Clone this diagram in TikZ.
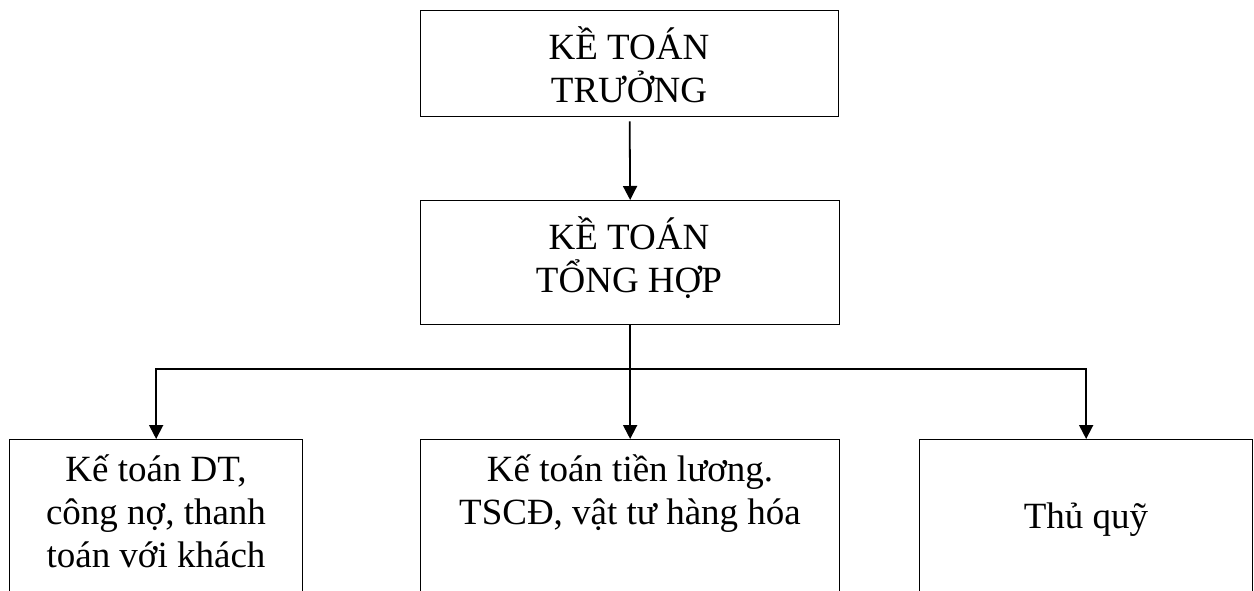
\documentclass[tikz,border=0pt]{standalone}
\usepackage{fontspec}
\setmainfont{Liberation Serif}
\usetikzlibrary{arrows.meta}
\begin{document}
\begin{tikzpicture}[x=1pt, y=-1pt,
	khung/.style={draw, line width=1.3pt, inner sep=0pt, anchor=north west},
	chu/.style={anchor=north, align=center, inner sep=0pt, font=\fontsize{37}{43}\selectfont},
	mui/.style={line width=1.8pt, -{Triangle[length=14pt,width=14pt]}}]

\useasboundingbox (0,0) rectangle (1254,591)							;

%%%%------------Ke toan truong----------------%%
\node [khung, minimum width=418pt, minimum height=106pt] (truong) at (420,10) {}	;
\node [chu] (truongchu) at (629,26) {KỀ TOÁN\\TRƯỞNG}					;

%%%%------------Ke toan tong hop----------------%%
\node [khung, minimum width=419pt, minimum height=124pt] (tonghop) at (420,200) {}	;
\node [chu] (tonghopchu) at (629,216) {KỀ TOÁN\\TỔNG HỢP}				;

%%%%------------Cac bo phan----------------%%
\node [khung, minimum width=293pt, minimum height=200pt] (congno) at (9,439) {}		;
\node [chu] (congnochu) at (156,455) {Kế toán DT,\\công nợ, thanh\\toán với khách}	;
\node [khung, minimum width=419pt, minimum height=200pt] (luong) at (420,439) {}	;
\node [chu] (luongchu) at (630,455) {Kế toán tiền lương.\\TSCĐ, vật tư hàng hóa}	;
\node [khung, minimum width=333pt, minimum height=200pt] (quy) at (919,439) {}		;
\node [anchor=base, inner sep=0pt, font=\fontsize{37}{43}\selectfont] (quychu) at (1086,528) {Thủ quỹ}	;

%%%-------------Mui ten-------------%%%
\coordinate (re) at (tonghop.south |- 0,369)							;
\draw [mui, shorten <=4pt] (truong.south) -- (tonghop.north)			;
\draw [line width=1.8pt] (tonghop.south) -- (re)						;
\draw [mui] (re) -| (congno.north)										;
\draw [mui] (re) -| (quy.north)											;
\draw [mui] (re) -- (luong.north)										;

\end{tikzpicture}
\end{document}
